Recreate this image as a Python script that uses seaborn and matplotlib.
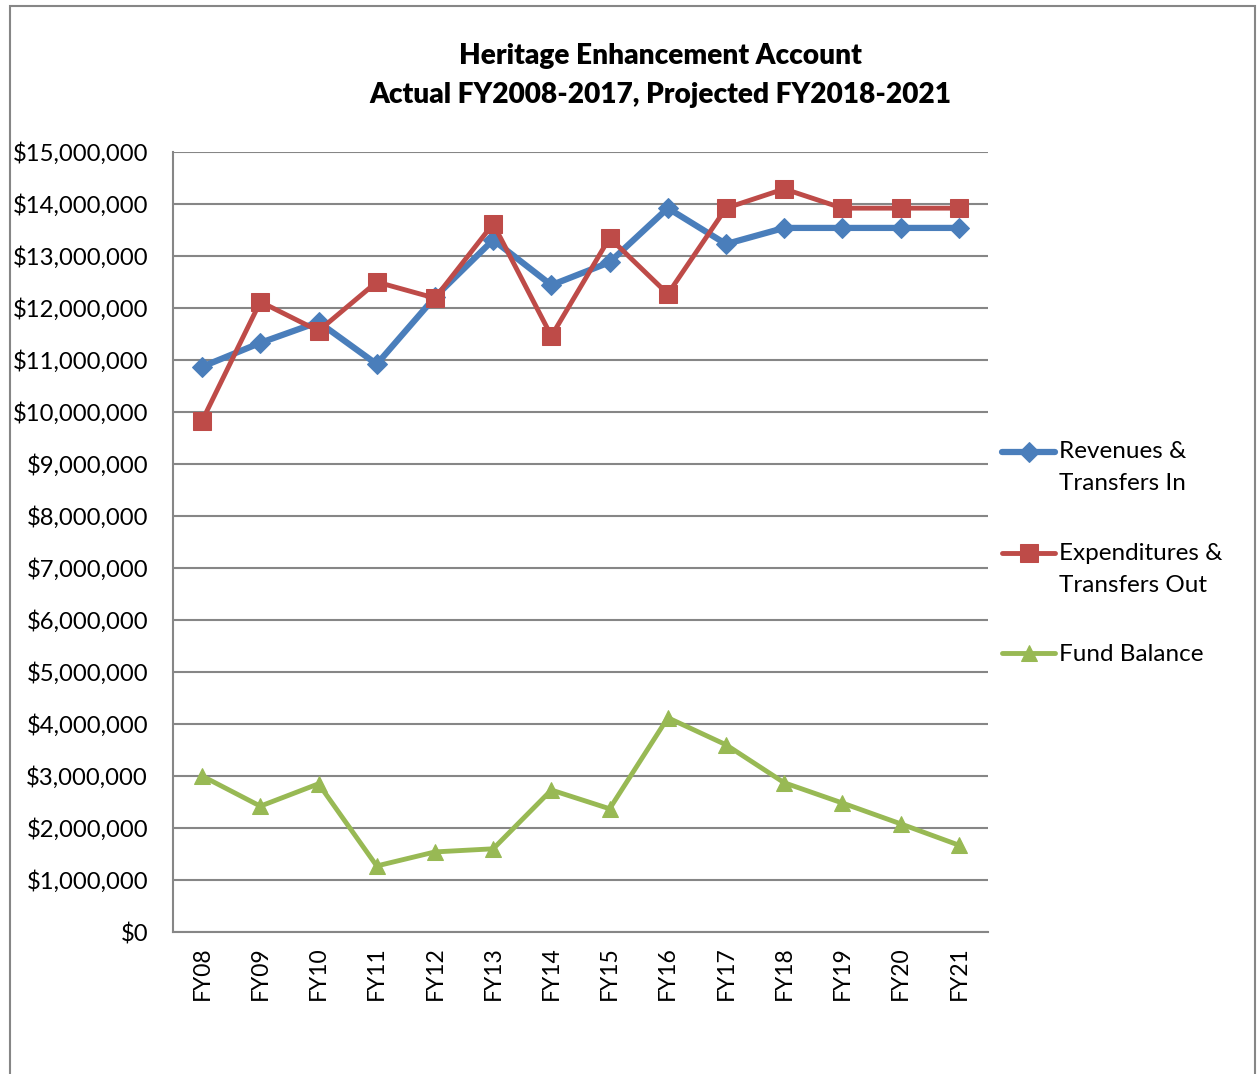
import matplotlib
matplotlib.use("Agg")
import matplotlib.pyplot as plt
import seaborn as sns
import pandas as pd
from matplotlib.patches import Rectangle
from matplotlib.ticker import FuncFormatter, MultipleLocator
from matplotlib.legend_handler import HandlerLine2D

years = ["FY08", "FY09", "FY10", "FY11", "FY12", "FY13", "FY14",
         "FY15", "FY16", "FY17", "FY18", "FY19", "FY20", "FY21"]
revenues = [10.87, 11.33, 11.73, 10.92, 12.21, 13.31, 12.44,
            12.88, 13.92, 13.23, 13.54, 13.54, 13.54, 13.54]
expenditures = [9.83, 12.12, 11.56, 12.50, 12.19, 13.62, 11.46,
                13.35, 12.27, 13.92, 14.29, 13.92, 13.92, 13.92]
fund_balance = [3.00, 2.42, 2.85, 1.27, 1.54, 1.60, 2.73,
                2.37, 4.12, 3.60, 2.87, 2.48, 2.08, 1.67]

labels = ["Revenues &\nTransfers In", "Expenditures &\nTransfers Out", "Fund Balance"]
colors = ["#4A7EBB", "#BE4B48", "#98B954"]
markers = ["D", "s", "^"]
msizes = [10, 13.5, 12]
lws = [4.5, 3.5, 3.5]

sns.set_theme(style="white")
plt.rcParams['font.family'] = ['Lato', 'DejaVu Sans']

fig = plt.figure(figsize=(12.59, 10.74), dpi=100)
ax = fig.add_axes([173/1259, 1-932/1074, (988-173)/1259, (932-152)/1074])

x = list(range(len(years)))
series = [revenues, expenditures, fund_balance]
for vals, lab, c, m, ms, lw in zip(series, labels, colors, markers, msizes, lws):
    df = pd.DataFrame({"x": x, "y": [v * 1e6 for v in vals]})
    sns.lineplot(data=df, x="x", y="y", ax=ax, color=c, marker=m,
                 markersize=ms, markeredgecolor=c, linewidth=lw, label=lab,
                 zorder=3)

ax.set_xlim(-0.5, len(years) - 0.5)
ax.set_ylim(0, 15e6)
ax.yaxis.set_major_locator(MultipleLocator(1e6))
ax.yaxis.set_major_formatter(FuncFormatter(lambda v, p: f"${v:,.0f}"))
ax.set_xticks(x)
ax.set_xticklabels(years, rotation=90, fontsize=16.5, color="black")
ax.tick_params(axis='y', labelsize=17.2, length=0, pad=18, labelcolor="black")
ax.tick_params(axis='x', length=0, pad=10)
ax.set_xlabel("")
ax.set_ylabel("")
ax.grid(axis='y', color="#868686", linewidth=1.5)
ax.set_axisbelow(True)
for s in ["top", "right"]:
    ax.spines[s].set_visible(False)
for s in ["left", "bottom"]:
    ax.spines[s].set_color("#868686")
    ax.spines[s].set_linewidth(1.5)


class RaisedHandler(HandlerLine2D):
    def __init__(self, raise_pts=0.0, **kw):
        super().__init__(**kw)
        self.raise_pts = raise_pts

    def create_artists(self, legend, orig_handle, xdescent, ydescent,
                       width, height, fontsize, trans):
        return super().create_artists(legend, orig_handle, xdescent,
                                      ydescent - 2 * self.raise_pts,
                                      width, height, fontsize, trans)


ax.get_legend().remove()
handles, labs = ax.get_legend_handles_labels()
hmap = {handles[0]: RaisedHandler(11.5), handles[1]: RaisedHandler(11.5),
        handles[2]: RaisedHandler(0.0)}
leg = fig.legend(handles, labs, loc="upper left", bbox_to_anchor=(1002/1259, 1-441/1074),
                 frameon=False, fontsize=17.5, handlelength=2.2, handletextpad=0.15,
                 labelspacing=2.0, borderaxespad=0, borderpad=0, handler_map=hmap)
for t in leg.get_texts():
    t.set_linespacing(1.65)
    t.set_color("black")

fig.text(660/1259, 1-56/1074, "Heritage Enhancement Account", ha="center", va="center",
         fontsize=20.2, fontweight="heavy", color="black")
fig.text(660/1259, 1-95/1074, "Actual FY2008-2017, Projected FY2018-2021", ha="center",
         va="center", fontsize=20.2, fontweight="heavy", color="black")

fig.patches.append(Rectangle((10/1259, -0.05), (1255-10)/1259, 1 - 6/1074 + 0.05,
                             transform=fig.transFigure, fill=False,
                             edgecolor="#868686", linewidth=1.5))

fig.savefig("out.png", dpi=100, facecolor="white")
